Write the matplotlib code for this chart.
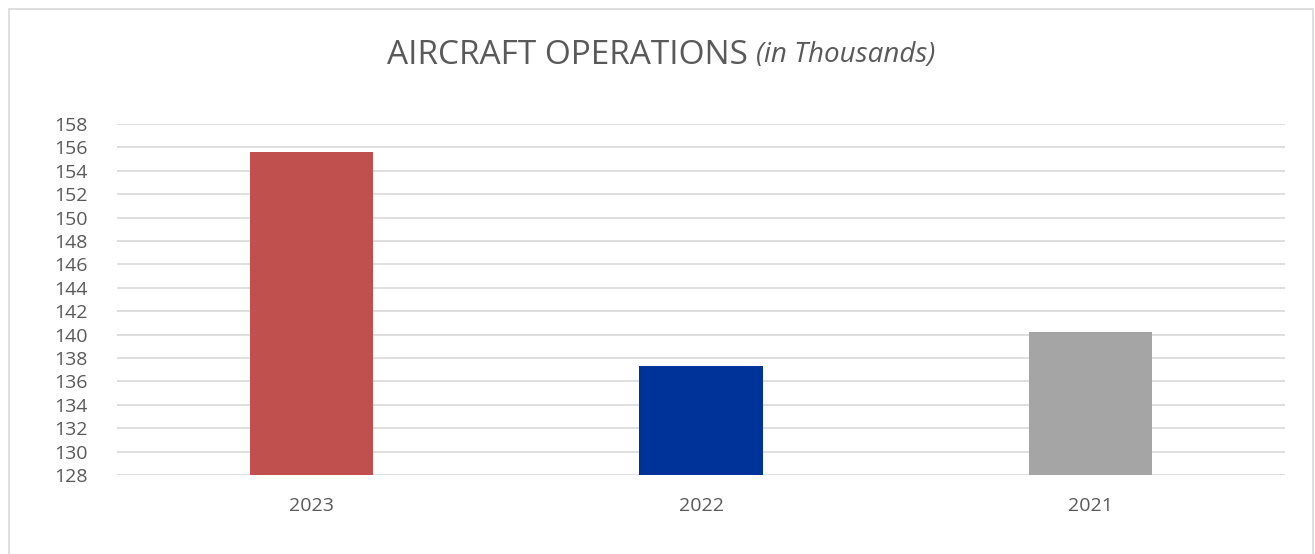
import numpy as np
import matplotlib
matplotlib.use("Agg")
import matplotlib.pyplot as plt
from matplotlib.patches import Rectangle

years = ["2023", "2022", "2021"]
operations = [155.6, 137.3, 140.2]
colors = ["#C0504D", "#003399", "#A5A5A5"]
yticks = list(range(128, 159, 2))

plt.rcParams['font.family'] = ['Open Sans', 'DejaVu Sans']

fig = plt.figure(figsize=(13.15, 5.54), dpi=100)
fig.patches.append(Rectangle((9 / 1315, -0.1), 1304 / 1315, 1.1 - 9 / 554, transform=fig.transFigure,
                             fill=False, edgecolor="#D9D9D9", linewidth=1.2))

ax = fig.add_axes([117 / 1315, 1 - 475 / 554, 1168 / 1315, 351 / 554])
x = np.arange(len(years))
ax.bar(x, [v - 128 for v in operations], bottom=128, width=0.316, color=colors, zorder=3)
ax.set_xlim(-0.5, len(years) - 0.5)
ax.set_ylim(128, 158)
ax.set_yticks(yticks)
ax.set_xticks(x)
ax.set_xticklabels(years)
ax.tick_params(axis="both", length=0, labelsize=14, colors="#595959")
ax.tick_params(axis="y", pad=21)
ax.tick_params(axis="x", pad=16)
ax.grid(axis="y", color="#D9D9D9", linewidth=1.2, zorder=0)
for s in ax.spines.values():
    s.set_visible(False)

# title: normal part + italic part
t1 = fig.text(0, 1 - 55 / 554, "AIRCRAFT OPERATIONS ", fontsize=24, color="#595959", va="center")
t2 = fig.text(0, 1 - 55 / 554, "(in Thousands)", fontsize=20, style="italic", color="#595959", va="center")
r = fig.canvas.get_renderer()
w1 = t1.get_window_extent(r).width
w2 = t2.get_window_extent(r).width
start = 661 - (w1 + w2) / 2
t1.set_x(start / 1315)
t2.set_x((start + w1) / 1315)

fig.savefig("out.png", dpi=100)
